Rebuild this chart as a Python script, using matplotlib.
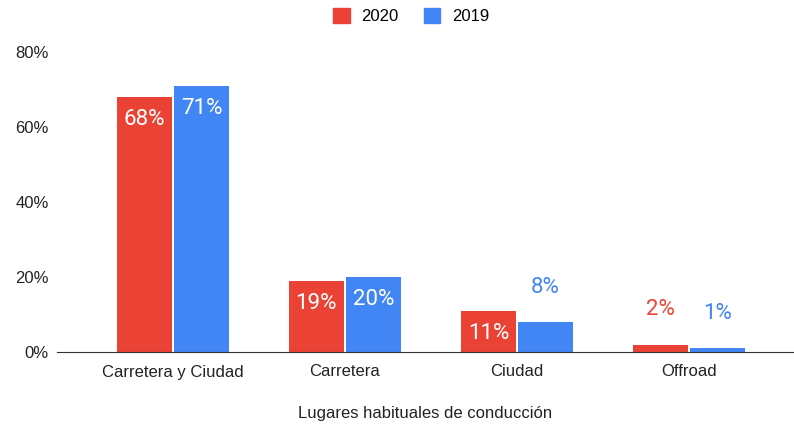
import matplotlib
matplotlib.use('Agg')
import matplotlib.pyplot as plt
import numpy as np
from matplotlib.patches import Patch

plt.rcParams['font.family'] = ['Liberation Sans', 'DejaVu Sans']

categories = ['Carretera y Ciudad', 'Carretera', 'Ciudad', 'Offroad']
v2020 = [68, 19, 11, 2]
v2019 = [71, 20, 8, 1]
series = [('2020', v2020, '#ea4335'), ('2019', v2019, '#4285f4')]

fig = plt.figure(figsize=(7.94, 4.24), dpi=100)
ax = fig.add_axes([57/794, 72/424, 737/794, 300/424])

x = np.arange(len(categories))
w = 0.32
for k, (name, vals, col) in enumerate(series):
    off = (k - 0.5) * (w + 0.012)
    ax.bar(x + off, vals, width=w, color=col, zorder=2)
    for xi, v in zip(x, vals):
        if v >= 10:
            ax.annotate(f'{v}%', (xi + off, v), xytext=(0, -16.5), textcoords='offset points',
                        ha='center', va='center', color='white', fontsize=16,
                        family='Roboto')
        else:
            ax.annotate(f'{v}%', (xi + off, v), xytext=(0, 25), textcoords='offset points',
                        ha='center', va='center', color=col, fontsize=16,
                        family='Roboto')

ax.set_xlim(-0.674, 3.61)
ax.set_ylim(0, 80)
ax.set_yticks([0, 20, 40, 60, 80])
ax.set_yticklabels([f'{t}%' for t in [0, 20, 40, 60, 80]])
ax.set_xticks(x)
ax.set_xticklabels(categories)
ax.tick_params(axis='both', length=0, labelsize=12, colors='#222222')
ax.tick_params(axis='y', pad=6)
ax.tick_params(axis='x', pad=9)
for s in ['top', 'right', 'left']:
    ax.spines[s].set_visible(False)
ax.spines['bottom'].set_color('#333333')
ax.spines['bottom'].set_zorder(3)
ax.set_xlabel('Lugares habituales de conducción', fontsize=12, color='#222222', labelpad=19)

handles = [Patch(color=c, label=n) for n, _, c in series]
fig.legend(handles=handles, loc='center', bbox_to_anchor=(0.518, 0.962), ncol=2,
           frameon=False, fontsize=12, handlelength=1.0, handleheight=1.0,
           handletextpad=0.7, columnspacing=1.5)

fig.savefig('out.png', dpi=100)
